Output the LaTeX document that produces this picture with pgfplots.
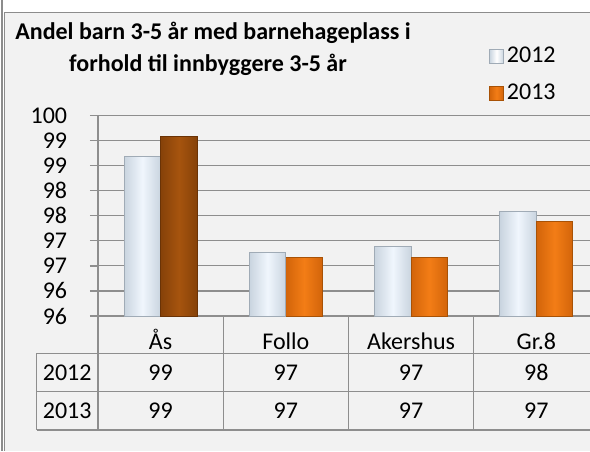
\documentclass[border=0pt]{standalone}
\usepackage{pgfplots}
\pgfplotsset{compat=1.18}
\usepackage{fontspec}
\setmainfont{Carlito}
\definecolor{panel}{HTML}{F2F2F2}
\definecolor{bord}{HTML}{8C8C8C}
\definecolor{gridc}{HTML}{8E8E8E}
\definecolor{blC}{HTML}{F0F6FD}
\definecolor{blE}{HTML}{C9D4DF}
\definecolor{blD}{HTML}{A0ABB6}
\definecolor{orC}{HTML}{F37D16}
\definecolor{orE}{HTML}{D2640A}
\definecolor{orD}{HTML}{A85206}
\definecolor{brC}{HTML}{A6540E}
\definecolor{brE}{HTML}{864209}
\definecolor{brD}{HTML}{6A3306}
\newcommand{\lblfont}{\fontsize{12}{14}\selectfont}
\pgfplotsset{
  b12/.style={bar shift=-9.125pt, draw=blD, line width=0.4pt,
    left color=blE, right color=blE, middle color=blC},
  b13/.style={bar shift=9.125pt, draw=orD, line width=0.4pt,
    left color=orE, right color=orE, middle color=orC},
  bAs/.style={bar shift=9.125pt, draw=brD, line width=0.4pt,
    left color=brE, right color=brE, middle color=brC},
}
\begin{document}
\begin{tikzpicture}
\begin{scope}[x=0.5pt,y=-0.5pt]
\fill[white] (0,0) rectangle (590,451);
\fill[panel] (5,12.5) rectangle (590,451);
\draw[bord,line width=1pt] (1.5,0) -- (1.5,451);
\draw[bord,line width=0.5pt] (4.5,12) -- (4.5,451);
\draw[bord,line width=0.7pt] (4.5,12.5) -- (590,12.5);
\node[anchor=base,font=\bfseries\lblfont,inner sep=0pt] at (213,39.3) {Andel barn 3-5 år med barnehageplass i};
\node[anchor=base,font=\bfseries\lblfont,inner sep=0pt] at (208,71.7) {forhold til innbyggere 3-5 år};
\end{scope}
\begin{axis}[
  at={(49pt,-158pt)}, anchor=south west,
  scale only axis, width=250.5pt, height=100.25pt,
  xmin=-0.5, xmax=3.5, ymin=95.5, ymax=99.5,
  ytick={95.5,96,96.5,97,97.5,98,98.5,99,99.5},
  yticklabels={96,96,97,97,98,98,99,99,100},
  xtick={0,1,2,3},
  xticklabels={Ås,Follo,Akershus,Gr.8},
  x tick style={draw=none},
  xticklabel style={font=\lblfont,anchor=base,yshift=-12.85pt,inner sep=0pt},
  yticklabel style={font=\lblfont,anchor=east,inner sep=0pt,xshift=-11.25pt},
  /pgf/number format/assume math mode=true,
  ymajorgrids,
  grid style={gridc,line width=0.6pt},
  axis x line*=bottom, axis y line*=left,
  axis line style={gridc,line width=0.6pt,-},
  ytick pos=left,
  y tick style={draw=gridc,line width=0.6pt},
  tick align=outside, major tick length=4pt,
  ybar, bar width=18.25pt,
  legend style={at={(axis description cs:0.780,1.358)}, anchor=north west,
    draw=none, fill=none, font=\lblfont, inner sep=0pt, row sep=6pt,
    nodes={inner sep=1.5pt}},
  legend cell align=left,
]
\addplot[b12, legend image code/.code={\draw[draw=blD,left color=blE,right color=blE,middle color=white,line width=0.4pt] (0pt,-3.5pt) rectangle (7pt,3.5pt);}]
  coordinates {(0,98.69)};
\addplot[b13, legend image code/.code={\draw[draw=orD,left color=orE,right color=orE,middle color=orC,line width=0.4pt] (0pt,-3.5pt) rectangle (7pt,3.5pt);}]
  coordinates {(1,96.67)};
\addplot[b12, forget plot] coordinates {(1,96.77)};
\addplot[b12, forget plot] coordinates {(2,96.88)};
\addplot[b12, forget plot] coordinates {(3,97.59)};
\addplot[b13, forget plot] coordinates {(2,96.67)};
\addplot[b13, forget plot] coordinates {(3,97.38)};
\addplot[bAs, forget plot] coordinates {(0,99.09)};
\legend{2012,2013}
\end{axis}
\begin{scope}[x=0.5pt,y=-0.5pt]
\begin{scope}[gridc,line width=0.6pt]
\foreach \y in {115.5,140.6,165.6,190.7,215.75,240.8,265.9,290.9,316} \draw (90,\y) -- (98,\y);
\draw (36.7,353.2) -- (600,353.2);
\draw (36.7,391.6) -- (600,391.6);
\draw (36.7,430) -- (600,430);
\draw (36.7,353.2) -- (36.7,430);
\foreach \x in {98,223.25,348.5,473.75} \draw (\x,316) -- (\x,430);
\end{scope}
\node[font=\lblfont,inner sep=0pt] at (67.2,372.4) {2012};
\node[font=\lblfont,inner sep=0pt] at (67.2,410.8) {2013};
\foreach \x/\a/\b in {160.6/99/99, 285.9/97/97, 411.1/97/97, 536.4/98/97} {
  \node[font=\lblfont,inner sep=0pt] at (\x,372.4) {\a};
  \node[font=\lblfont,inner sep=0pt] at (\x,410.8) {\b};
}
\pgfresetboundingbox
\path (0,0) rectangle (590,451);
\end{scope}
\end{tikzpicture}
\end{document}
